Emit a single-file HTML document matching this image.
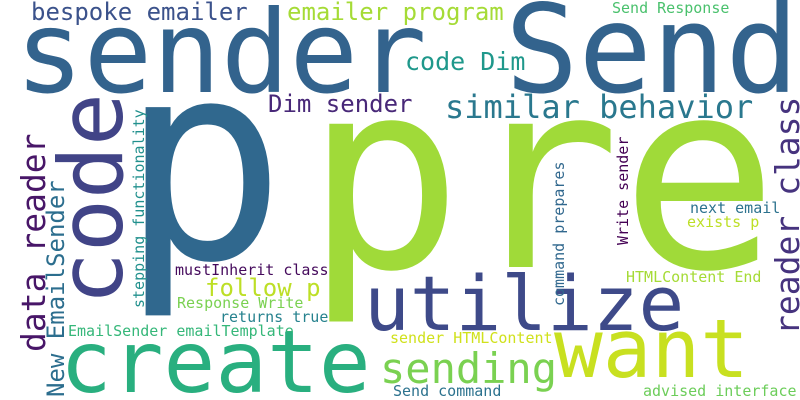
<!DOCTYPE html>
<html><head><meta charset="utf-8"><style>
html,body{margin:0;padding:0;background:#fff;}
svg{display:block;}
text{font-family:"DejaVu Sans Mono","Liberation Mono",monospace;}
</style></head><body>
<svg width="800" height="400" viewBox="0 0 800 400">
<rect width="800" height="400" fill="#fff"/>
<g id="words"></g>
</svg>
<script>
const words = ["p","pre","sender","Send","bespoke emailer","emailer program","Send Response","code Dim","Dim sender","similar behavior","follow p","mustInherit class","Response Write","returns true","EmailSender emailTemplate","sender HTMLContent","Send command","advised interface","HTMLContent End","next email","exists p","create","sending","utilize","want","code","data reader","New EmailSender","stepping functionality","reader class","command prepares","Write sender"];
const sizes = [276,262,114,122,24,24,15,25,24,32,24,15,15,15,15,15,15,15,15,15,15,86,42,76,81,88,33,24,15,33,15,15];
const colors = ["#30688e","#a0da39","#33638d","#33638d","#3b528b","#a5db36","#4ac16d","#1f988b","#482878","#2a788e","#bddf26","#450a5c","#7ad151","#26828e","#35b779","#d0e11c","#2c728e","#6ccd5a","#a5db36","#2c728e","#bddf26","#29af7f","#7ad151","#3e4a89","#c8e020","#414487","#481668","#2c6e8e","#21908d","#46337e","#31688e","#440154"];
const xs = [120,305,15,505,31,287,612,405,268,445,205,175,177,220,68,390,393,643,626,690,687,60,380,364,554,122,45,64,144,799,564,628];
const ys = [258,267,92,92,20,20,13,70,112,118,296,275,308,322,336,343,396,396,282,213,227,392,383,330,377,305,352,397,308,335,306,245];
const vertical = [0,0,0,0,0,0,0,0,0,0,0,0,0,0,0,0,0,0,0,0,0,0,0,0,0,1,1,1,1,1,1,1];
const g = document.getElementById('words');
const NS = "http://www.w3.org/2000/svg";
for (let i = 0; i < words.length; i++) {
  const t = document.createElementNS(NS, 'text');
  t.textContent = words[i];
  t.setAttribute('font-size', sizes[i]);
  t.setAttribute('fill', colors[i]);
  if (vertical[i]) {
    t.setAttribute('transform', 'translate(' + xs[i] + ',' + ys[i] + ') rotate(-90)');
  } else {
    t.setAttribute('x', xs[i]);
    t.setAttribute('y', ys[i]);
  }
  
  
  g.appendChild(t);
}
</script>
</body></html>
